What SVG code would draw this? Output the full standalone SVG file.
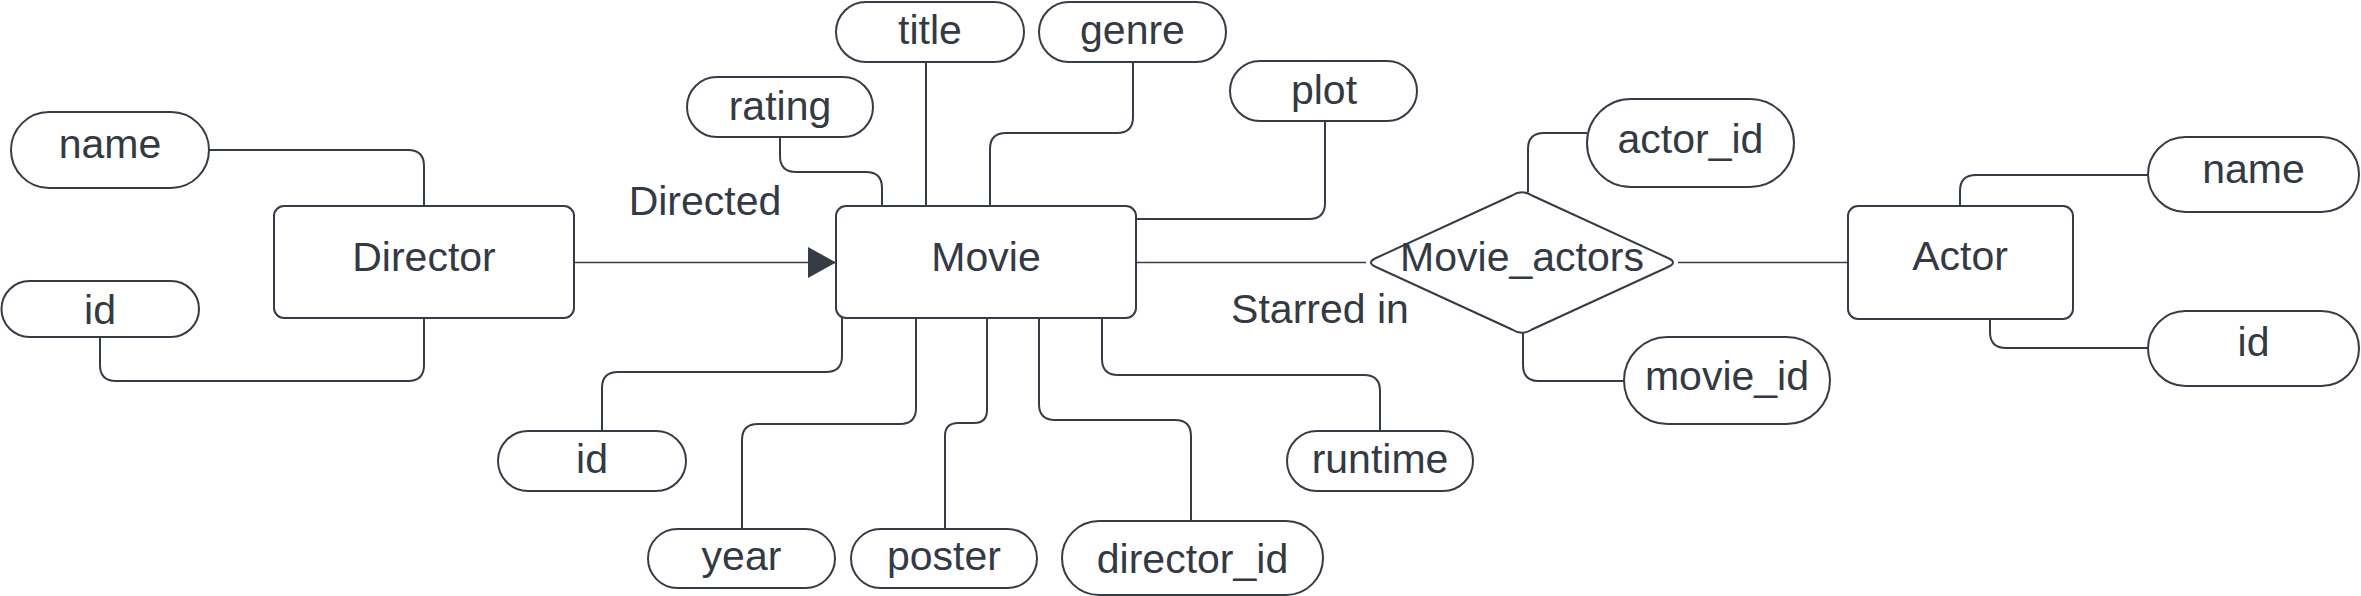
<svg xmlns="http://www.w3.org/2000/svg" width="2361" height="596" viewBox="0 0 2361 596">
<style>
.ent{fill:#ffffff;stroke:#363c46;stroke-width:2}
.attr{fill:#ffffff;stroke:#363c46;stroke-width:2}
.rel{fill:#ffffff;stroke:#363c46;stroke-width:2}
.lbl{font-family:"Liberation Sans",Arial,sans-serif;font-size:41px;fill:#333a44;text-anchor:middle}
.c{fill:none;stroke:#363c46;stroke-width:2}
.ct{fill:none;stroke:#363c46;stroke-width:1.3}
</style>
<defs>
<marker id="arr" markerUnits="userSpaceOnUse" viewBox="0 0 28 31" refX="28" refY="15.5" markerWidth="28" markerHeight="31" orient="auto">
<path d="M0,0 L28,15.5 L0,31 Z" fill="#363c46"/>
</marker>
</defs>
<rect width="2361" height="596" fill="#ffffff"/>
<g id="connectors">
<path class="c" d="M209 150 H408 Q424 150 424 166 V206"/>
<path class="c" d="M100 337 V365 Q100 381 116 381 H408 Q424 381 424 365 V318"/>
<path class="ct" d="M574 262.5 H836" marker-end="url(#arr)"/>
<path class="c" d="M780 137 V156 Q780 172 796 172 H866 Q882 172 882 188 V206"/>
<path class="c" d="M926 62 V206"/>
<path class="c" d="M1133 62 V117 Q1133 133 1117 133 H1006 Q990 133 990 149 V206"/>
<path class="c" d="M1325 121 V203 Q1325 219 1309 219 H1136"/>
<path class="ct" d="M1136 262.5 H1366"/>
<path class="ct" d="M1678 262.5 H1848"/>
<path class="c" d="M1528 192 V149 Q1528 133 1544 133 H1587"/>
<path class="c" d="M1523 333 V365 Q1523 381 1539 381 H1624"/>
<path class="c" d="M1960 206 V191 Q1960 175 1976 175 H2148"/>
<path class="c" d="M1990 319 V332 Q1990 348 2006 348 H2148"/>
<path class="c" d="M842 318 V356 Q842 372 826 372 H618 Q602 372 602 388 V431"/>
<path class="c" d="M916 318 V408 Q916 424 900 424 H758 Q742 424 742 440 V529"/>
<path class="c" d="M987 318 V410 Q987 423 974 423 H958 Q945 423 945 436 V529"/>
<path class="c" d="M1039 318 V404 Q1039 420 1055 420 H1175 Q1191 420 1191 436 V521"/>
<path class="c" d="M1102 318 V359 Q1102 375 1118 375 H1364 Q1380 375 1380 391 V431"/>
</g>
<text class="lbl" x="705" y="215">Directed</text>
<text class="lbl" x="1320" y="323">Starred in</text>
<g id="director"><rect class="ent" x="274" y="206" width="300" height="112" rx="10"/><text class="lbl" x="424" y="271">Director</text></g>
<g id="movie"><rect class="ent" x="836" y="206" width="300" height="112" rx="10"/><text class="lbl" x="986" y="271">Movie</text></g>
<g id="actor"><rect class="ent" x="1848" y="206" width="225" height="113" rx="10"/><text class="lbl" x="1960" y="270">Actor</text></g>
<g id="movie_actors"><path class="rel" d="M1376 258 L1512 195.5 Q1522 189 1532 195.5 L1668 258 Q1678 262.5 1668 267 L1532 329.5 Q1522 336 1512 329.5 L1376 267 Q1366 262.5 1376 258 Z"/><text class="lbl" x="1522" y="271">Movie_actors</text></g>
<g id="director_name"><rect class="attr" x="11" y="112" width="198" height="76" rx="38"/><text class="lbl" x="110" y="158">name</text></g>
<g id="director_id"><rect class="attr" x="1.5" y="281" width="197.5" height="56" rx="28"/><text class="lbl" x="100" y="324">id</text></g>
<g id="movie_rating"><rect class="attr" x="687" y="77" width="186" height="60" rx="30"/><text class="lbl" x="780" y="120">rating</text></g>
<g id="movie_title"><rect class="attr" x="836" y="2" width="188" height="60" rx="30"/><text class="lbl" x="930" y="44">title</text></g>
<g id="movie_genre"><rect class="attr" x="1039" y="2" width="187" height="60" rx="30"/><text class="lbl" x="1132.5" y="44">genre</text></g>
<g id="movie_plot"><rect class="attr" x="1230" y="61" width="187" height="60" rx="30"/><text class="lbl" x="1324" y="104">plot</text></g>
<g id="movie_id"><rect class="attr" x="498" y="431" width="188" height="60" rx="30"/><text class="lbl" x="592" y="473">id</text></g>
<g id="movie_year"><rect class="attr" x="648" y="529" width="187" height="59" rx="29.5"/><text class="lbl" x="741.5" y="570">year</text></g>
<g id="movie_poster"><rect class="attr" x="851" y="529" width="186" height="59" rx="29.5"/><text class="lbl" x="944" y="570">poster</text></g>
<g id="movie_director_id"><rect class="attr" x="1062" y="521" width="261" height="74" rx="37"/><text class="lbl" x="1192.5" y="573">director_id</text></g>
<g id="movie_runtime"><rect class="attr" x="1287" y="431" width="186" height="60" rx="30"/><text class="lbl" x="1380" y="473">runtime</text></g>
<g id="ma_actor_id"><rect class="attr" x="1587" y="99" width="207" height="88" rx="44"/><text class="lbl" x="1690.5" y="153">actor_id</text></g>
<g id="ma_movie_id"><rect class="attr" x="1624" y="337" width="206" height="87" rx="43.5"/><text class="lbl" x="1727" y="390">movie_id</text></g>
<g id="actor_name"><rect class="attr" x="2148" y="137" width="211" height="75" rx="37.5"/><text class="lbl" x="2253.5" y="183">name</text></g>
<g id="actor_id"><rect class="attr" x="2148" y="311" width="211" height="75" rx="37.5"/><text class="lbl" x="2253.5" y="356">id</text></g>
</svg>
